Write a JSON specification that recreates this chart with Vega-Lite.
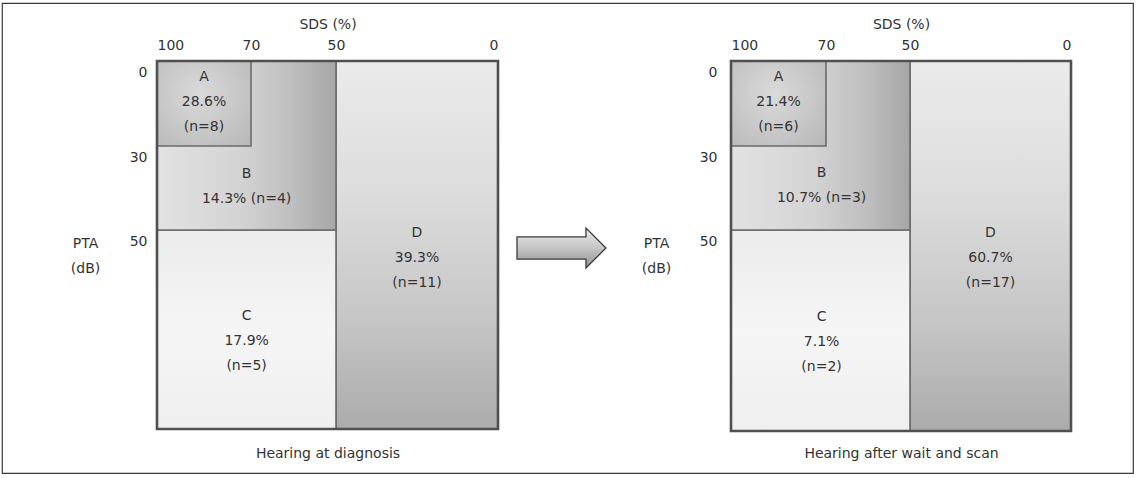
{
  "$schema": "https://vega.github.io/schema/vega-lite/v6.json",
  "width": 1131,
  "height": 470,
  "padding": {"left": 2, "top": 3, "right": 4, "bottom": 5},
  "background": "white",
  "config": {
    "font": "DejaVu Sans",
    "view": {"stroke": "#3a3a3a", "strokeWidth": 1.2},
    "axis": {"grid": false, "ticks": false, "domain": false, "labelFontSize": 14, "labelColor": "#333333", "titleFontSize": 14, "titleFontWeight": "normal", "titleColor": "#333333", "labelFont": "DejaVu Sans", "titleFont": "DejaVu Sans"}
  },
  "datasets": {
    "regions": [
      {"panel": "diagnosis", "region": "box", "x": 100, "x2": 0, "y": 0, "y2": 120},
      {"panel": "diagnosis", "region": "D", "x": 50, "x2": 0, "y": 0, "y2": 120},
      {"panel": "diagnosis", "region": "C", "x": 100, "x2": 50, "y": 50, "y2": 120},
      {"panel": "diagnosis", "region": "B", "x": 100, "x2": 50, "y": 0, "y2": 50},
      {"panel": "diagnosis", "region": "A", "x": 100, "x2": 70, "y": 0, "y2": 30},
      {"panel": "after", "region": "box", "x": 100, "x2": 0, "y": 0, "y2": 120},
      {"panel": "after", "region": "D", "x": 50, "x2": 0, "y": 0, "y2": 120},
      {"panel": "after", "region": "C", "x": 100, "x2": 50, "y": 50, "y2": 120},
      {"panel": "after", "region": "B", "x": 100, "x2": 50, "y": 0, "y2": 50},
      {"panel": "after", "region": "A", "x": 100, "x2": 70, "y": 0, "y2": 30}
    ],
    "labels": [
      {"panel": "diagnosis", "region": "A", "x": 85, "y": 5.6, "label": "A\n28.6%\n(n=8)"},
      {"panel": "diagnosis", "region": "B", "x": 71.4, "y": 36.6, "label": "B\n14.3% (n=4)"},
      {"panel": "diagnosis", "region": "C", "x": 71.4, "y": 80.3, "label": "C\n17.9%\n(n=5)"},
      {"panel": "diagnosis", "region": "D", "x": 25, "y": 51.1, "label": "D\n39.3%\n(n=11)"},
      {"panel": "after", "region": "A", "x": 85, "y": 5.6, "label": "A\n21.4%\n(n=6)"},
      {"panel": "after", "region": "B", "x": 71.4, "y": 36.4, "label": "B\n10.7% (n=3)"},
      {"panel": "after", "region": "C", "x": 71.4, "y": 80.3, "label": "C\n7.1%\n(n=2)"},
      {"panel": "after", "region": "D", "x": 25, "y": 51.1, "label": "D\n60.7%\n(n=17)"}
    ],
    "arrow": [{"t": 0.5, "v": 0.5}]
  },
  "layer": [
    {
      "layer": [
        {
          "data": {"name": "regions"},
          "transform": [{"filter": "datum.panel === 'diagnosis' && datum.region === 'box'"}],
          "mark": {"type": "rect", "fill": "#777777", "opacity": 0.45, "xOffset": 2, "yOffset": 3, "strokeWidth": 0},
          "encoding": {
            "x": {"field": "x", "type": "quantitative", "scale": {"domain": [100, 70, 50, 0], "range": [155, 249, 334, 496], "zero": false, "nice": false},
                  "axis": {"orient": "top", "offset": -58, "values": [100, 70, 50, 0], "labelFlush": true, "labelPadding": 9, "title": "SDS (%)", "titlePadding": 7}},
            "x2": {"field": "x2"},
            "y": {"field": "y", "type": "quantitative", "scale": {"domain": [0, 30, 50, 120], "range": [58, 143, 227, 426], "zero": false, "nice": false},
                  "axis": {"orient": "left", "offset": -155, "zindex": 1, "values": [0, 30, 50], "labelPadding": 10, "labelOffset": 11, "labelBaseline": "middle", "title": ["PTA", "(dB)"], "titleAngle": 0, "titleX": -72, "titleY": 240, "titleAlign": "center", "titleBaseline": "middle", "titleLineHeight": 25}},
            "y2": {"field": "y2"}
          }
        },
        {
          "data": {"name": "regions"},
          "transform": [{"filter": "datum.panel === 'diagnosis' && datum.region !== 'box'"}],
          "mark": {"type": "rect", "stroke": "#6b6b6b", "strokeWidth": 1.6},
          "encoding": {
            "x": {"field": "x", "type": "quantitative", "axis": null},
            "x2": {"field": "x2"},
            "y": {"field": "y", "type": "quantitative"},
            "y2": {"field": "y2"},
            "fill": {
              "condition": [
                {"test": "datum.region === 'A'", "value": {"gradient": "radial", "x1": 0.45, "y1": 0.4, "x2": 0.45, "y2": 0.4, "r1": 0, "r2": 0.75, "stops": [{"offset": 0, "color": "#dadada"}, {"offset": 1, "color": "#b8b8b8"}]}},
                {"test": "datum.region === 'B'", "value": {"gradient": "linear", "x1": 0, "y1": 0, "x2": 1, "y2": 0, "stops": [{"offset": 0, "color": "#e2e2e2"}, {"offset": 0.45, "color": "#d4d4d4"}, {"offset": 0.75, "color": "#bfbfbf"}, {"offset": 1, "color": "#a6a6a6"}]}},
                {"test": "datum.region === 'C'", "value": {"gradient": "linear", "x1": 0, "y1": 0, "x2": 0, "y2": 1, "stops": [{"offset": 0, "color": "#ececec"}, {"offset": 0.5, "color": "#f5f5f5"}, {"offset": 1, "color": "#efefef"}]}}
              ],
              "value": {"gradient": "linear", "x1": 0, "y1": 0, "x2": 0, "y2": 1, "stops": [{"offset": 0, "color": "#ebebeb"}, {"offset": 0.35, "color": "#dddddd"}, {"offset": 0.7, "color": "#c6c6c6"}, {"offset": 1, "color": "#ababab"}]}
            }
          }
        },
        {
          "data": {"name": "regions"},
          "transform": [{"filter": "datum.panel === 'diagnosis' && datum.region === 'box'"}],
          "mark": {"type": "rect", "fill": "#ffffff", "fillOpacity": 0, "stroke": "#505050", "strokeWidth": 2.6},
          "encoding": {
            "x": {"field": "x", "type": "quantitative", "axis": null},
            "x2": {"field": "x2"},
            "y": {"field": "y", "type": "quantitative"},
            "y2": {"field": "y2"}
          }
        },
        {
          "data": {"name": "labels"},
          "transform": [{"filter": "datum.panel === 'diagnosis'"}],
          "mark": {"type": "text", "lineBreak": "\n", "lineHeight": 25, "fontSize": 14, "color": "#333333", "baseline": "middle", "align": "center"},
          "encoding": {
            "x": {"field": "x", "type": "quantitative", "axis": {"orient": "bottom", "offset": -27, "labels": false, "title": "Hearing at diagnosis", "titlePadding": 0}},
            "y": {"field": "y", "type": "quantitative"},
            "text": {"field": "label", "type": "nominal"}
          }
        }
      ],
      "resolve": {"axis": {"x": "independent"}}
    },
    {
      "layer": [
        {
          "data": {"name": "regions"},
          "transform": [{"filter": "datum.panel === 'after' && datum.region === 'box'"}],
          "mark": {"type": "rect", "fill": "#777777", "opacity": 0.45, "xOffset": 2, "yOffset": 3, "strokeWidth": 0},
          "encoding": {
            "x": {"field": "x", "type": "quantitative", "scale": {"domain": [100, 70, 50, 0], "range": [729, 824, 908, 1069], "zero": false, "nice": false},
                  "axis": {"orient": "top", "offset": -58, "values": [100, 70, 50, 0], "labelFlush": true, "labelPadding": 9, "title": "SDS (%)", "titlePadding": 7}},
            "x2": {"field": "x2"},
            "y": {"field": "y", "type": "quantitative", "scale": {"domain": [0, 30, 50, 120], "range": [58, 143, 227, 428], "zero": false, "nice": false},
                  "axis": {"orient": "left", "offset": -729, "zindex": 1, "values": [0, 30, 50], "labelPadding": 14, "labelOffset": 11, "labelBaseline": "middle", "title": ["PTA", "(dB)"], "titleAngle": 0, "titleX": -75, "titleY": 240, "titleAlign": "center", "titleBaseline": "middle", "titleLineHeight": 25}},
            "y2": {"field": "y2"}
          }
        },
        {
          "data": {"name": "regions"},
          "transform": [{"filter": "datum.panel === 'after' && datum.region !== 'box'"}],
          "mark": {"type": "rect", "stroke": "#6b6b6b", "strokeWidth": 1.6},
          "encoding": {
            "x": {"field": "x", "type": "quantitative", "axis": null},
            "x2": {"field": "x2"},
            "y": {"field": "y", "type": "quantitative"},
            "y2": {"field": "y2"},
            "fill": {
              "condition": [
                {"test": "datum.region === 'A'", "value": {"gradient": "radial", "x1": 0.45, "y1": 0.4, "x2": 0.45, "y2": 0.4, "r1": 0, "r2": 0.75, "stops": [{"offset": 0, "color": "#dadada"}, {"offset": 1, "color": "#b8b8b8"}]}},
                {"test": "datum.region === 'B'", "value": {"gradient": "linear", "x1": 0, "y1": 0, "x2": 1, "y2": 0, "stops": [{"offset": 0, "color": "#e2e2e2"}, {"offset": 0.45, "color": "#d4d4d4"}, {"offset": 0.75, "color": "#bfbfbf"}, {"offset": 1, "color": "#a6a6a6"}]}},
                {"test": "datum.region === 'C'", "value": {"gradient": "linear", "x1": 0, "y1": 0, "x2": 0, "y2": 1, "stops": [{"offset": 0, "color": "#ececec"}, {"offset": 0.5, "color": "#f5f5f5"}, {"offset": 1, "color": "#efefef"}]}}
              ],
              "value": {"gradient": "linear", "x1": 0, "y1": 0, "x2": 0, "y2": 1, "stops": [{"offset": 0, "color": "#ebebeb"}, {"offset": 0.35, "color": "#dddddd"}, {"offset": 0.7, "color": "#c6c6c6"}, {"offset": 1, "color": "#ababab"}]}
            }
          }
        },
        {
          "data": {"name": "regions"},
          "transform": [{"filter": "datum.panel === 'after' && datum.region === 'box'"}],
          "mark": {"type": "rect", "fill": "#ffffff", "fillOpacity": 0, "stroke": "#505050", "strokeWidth": 2.6},
          "encoding": {
            "x": {"field": "x", "type": "quantitative", "axis": null},
            "x2": {"field": "x2"},
            "y": {"field": "y", "type": "quantitative"},
            "y2": {"field": "y2"}
          }
        },
        {
          "data": {"name": "labels"},
          "transform": [{"filter": "datum.panel === 'after'"}],
          "mark": {"type": "text", "lineBreak": "\n", "lineHeight": 25, "fontSize": 14, "color": "#333333", "baseline": "middle", "align": "center"},
          "encoding": {
            "x": {"field": "x", "type": "quantitative", "axis": {"orient": "bottom", "offset": -27, "labels": false, "title": "Hearing after wait and scan", "titlePadding": 0}},
            "y": {"field": "y", "type": "quantitative"},
            "text": {"field": "label", "type": "nominal"}
          }
        }
      ],
      "resolve": {"axis": {"x": "independent"}}
    },
    {
      "data": {"name": "arrow"},
      "mark": {"type": "point", "shape": "M-1,-0.25L0.55,-0.25L0.55,-0.45L1,0L0.55,0.45L0.55,0.25L-1,0.25Z", "size": 7921, "filled": true, "opacity": 1,
               "fill": {"gradient": "linear", "x1": 0, "y1": 0, "x2": 0, "y2": 1, "stops": [{"offset": 0, "color": "#ebebeb"}, {"offset": 0.5, "color": "#c6c6c6"}, {"offset": 1, "color": "#8f8f8f"}]},
               "stroke": "#3a3a3a", "strokeWidth": 1.3},
      "encoding": {
        "x": {"field": "t", "type": "quantitative", "scale": {"domain": [0, 1], "range": [514, 605], "zero": false, "nice": false}, "axis": null},
        "y": {"field": "v", "type": "quantitative", "scale": {"domain": [0, 1], "range": [225, 265], "zero": false, "nice": false}, "axis": null}
      }
    }
  ],
  "resolve": {"scale": {"x": "independent", "y": "independent"}, "axis": {"x": "independent", "y": "independent"}}
}
